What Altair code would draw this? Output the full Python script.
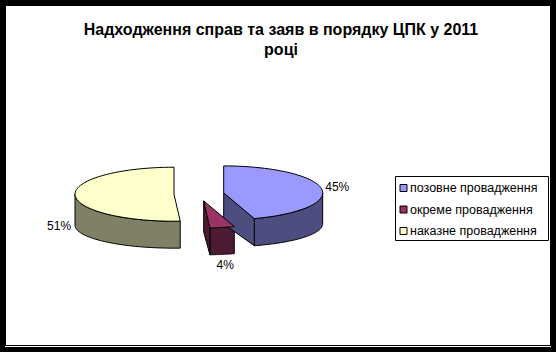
import altair as alt
import pandas as pd

# ---- data -------------------------------------------------------------
categories = ["позовне провадження", "окреме провадження", "наказне провадження"]
values = [45, 4, 51]
title_lines = ["Надходження справ та заяв в порядку ЦПК у 2011", "році"]

# ---- style ------------------------------------------------------------
top_colors = ["#9999FF", "#993366", "#FFFFCC"]
side_colors = ["#4D4D80", "#4D1A33", "#808066"]
FONT = "Liberation Sans"

W, H = 556, 352
CX, CY = 199, 194      # pie centre
RX, RY = 99, 27        # top ellipse radii
EX, EY = 25, 7         # explode distance
D, K = 31, 0.85        # depth and bottom flattening
N = 60                 # arc resolution
L = 16                 # label distance

df = pd.DataFrame({"cat": categories, "value": values,
                   "idx": list(range(len(categories)))})

xs = alt.Scale(domain=[0, W], nice=False, zero=False)
ys = alt.Scale(domain=[0, H], nice=False, zero=False, reverse=True)


def base():
    return (
        alt.Chart(df)
        .transform_joinaggregate(total="sum(value)")
        .transform_window(cum="sum(value)", sort=[alt.SortField("idx", order="ascending")])
        .transform_calculate(a0="2*PI*(datum.cum - datum.value)/datum.total")
        .transform_calculate(a1="2*PI*datum.cum/datum.total")
        .transform_calculate(mid="(datum.a0 + datum.a1)/2")
        .transform_calculate(ox=f"{CX} + {EX}*sin(datum.mid)")
        .transform_calculate(oy=f"{CY} - {EY}*cos(datum.mid)")
    )


def poly(ch, fill_colors, detail):
    return ch.mark_line(stroke="black", strokeWidth=1).encode(
        x=alt.X("px:Q", scale=xs, axis=None),
        y=alt.Y("py:Q", scale=ys, axis=None),
        order=alt.Order("k:Q"),
        detail=detail,
        fill=alt.Fill("cat:N", scale=alt.Scale(domain=categories, range=fill_colors), legend=None),
    )


# outer rim (front-facing part only)
rim_ch = (
    base()
    .transform_calculate(lo="max(datum.a0, PI/2)")
    .transform_calculate(hi="min(datum.a1, 3*PI/2)")
    .transform_filter("datum.hi > datum.lo + 0.000001")
    .transform_calculate(k=f"sequence(0, {2 * N + 3})")
    .transform_flatten(["k"])
    .transform_calculate(j=f"datum.k <= {N} ? datum.k : (datum.k <= {2 * N + 1} ? {2 * N + 1} - datum.k : 0)")
    .transform_calculate(bot=f"datum.k > {N} && datum.k <= {2 * N + 1}")
    .transform_calculate(ang=f"datum.lo + datum.j/{N}*(datum.hi - datum.lo)")
    .transform_calculate(px=f"datum.ox + {RX}*sin(datum.ang)")
    .transform_calculate(py=f"datum.oy + (datum.bot ? {D} - {K * RY}*cos(datum.ang) : -{RY}*cos(datum.ang))")
)
rim = poly(rim_ch, side_colors, ["cat:N"])

# radial cut faces (front-facing only)
face_ch = (
    base()
    .transform_calculate(edge="[0, 1]")
    .transform_flatten(["edge"])
    .transform_calculate(ea="datum.edge == 0 ? datum.a0 : datum.a1")
    .transform_filter("(datum.edge == 0 && sin(datum.ea) < -0.001) || (datum.edge == 1 && sin(datum.ea) > 0.001)")
    .transform_calculate(k="sequence(0, 5)")
    .transform_flatten(["k"])
    .transform_calculate(onrim="datum.k == 1 || datum.k == 2")
    .transform_calculate(bot="datum.k == 2 || datum.k == 3")
    .transform_calculate(cs="datum.onrim ? cos(datum.ea) : 0")
    .transform_calculate(px=f"datum.ox + (datum.onrim ? {RX}*sin(datum.ea) : 0)")
    .transform_calculate(py=f"datum.oy + (datum.bot ? {D} - {K * RY}*datum.cs : -{RY}*datum.cs)")
)
faces = poly(face_ch, side_colors, ["cat:N", "edge:N"])

# top faces
top_ch = (
    base()
    .transform_calculate(k=f"sequence(0, {N + 3})")
    .transform_flatten(["k"])
    .transform_calculate(t=f"clamp(datum.k - 1, 0, {N})/{N}")
    .transform_calculate(isc=f"datum.k == 0 || datum.k == {N + 2}")
    .transform_calculate(ang="datum.a0 + datum.t*(datum.a1 - datum.a0)")
    .transform_calculate(px=f"datum.ox + (datum.isc ? 0 : {RX}*sin(datum.ang))")
    .transform_calculate(py=f"datum.oy - (datum.isc ? 0 : {RY}*cos(datum.ang))")
)
top = poly(top_ch, top_colors, ["cat:N"])

# percentage labels
labels = (
    base()
    .transform_calculate(f="clamp(1 - sin(datum.mid), 0, 1)")
    .transform_calculate(lx=f"datum.ox + {RX}*sin(datum.mid) + {L}*sin(datum.mid)")
    .transform_calculate(ly=f"datum.oy - {RY}*cos(datum.mid) + datum.f*({D} + {RY - K * RY}*cos(datum.mid)) - {L}*cos(datum.mid)")
    .transform_calculate(pct="format(datum.value/datum.total, '.0%')")
    .mark_text(font=FONT, fontSize=12, color="black", align="center", baseline="middle")
    .encode(
        x=alt.X("lx:Q", scale=xs, axis=None),
        y=alt.Y("ly:Q", scale=ys, axis=None),
        text="pct:N",
    )
)

one = alt.Data(values=[{"a": 1}])

frame = alt.Chart(one).mark_rect(fill="white").encode(
    x=alt.value(6), x2=alt.value(550), y=alt.value(6), y2=alt.value(345)
)
frame_line = alt.Chart(one).mark_rect(fill="white").encode(
    x=alt.value(5), x2=alt.value(551), y=alt.value(346), y2=alt.value(347)
)

title = alt.Chart(one).mark_text(
    text=title_lines, font=FONT, fontSize=16, fontWeight="bold", color="black",
    align="center", baseline="alphabetic", lineHeight=20,
).encode(x=alt.value(281), y=alt.value(35))

legend_box = alt.Chart(one).mark_rect(fill="white", stroke="black", strokeWidth=1).encode(
    x=alt.value(395.5), x2=alt.value(548.5), y=alt.value(176.5), y2=alt.value(240.5)
)

leg_base = alt.Chart(df).transform_calculate(ly="188 + 21.5*datum.idx")
legend_sq = leg_base.mark_square(size=49, stroke="black", strokeWidth=1, opacity=1).encode(
    x=alt.value(403.5),
    y=alt.Y("ly:Q", scale=ys, axis=None),
    fill=alt.Fill("cat:N", scale=alt.Scale(domain=categories, range=top_colors), legend=None),
)
legend_txt = leg_base.mark_text(font=FONT, fontSize=12.5, color="black",
                                align="left", baseline="middle").encode(
    x=alt.value(410),
    y=alt.Y("ly:Q", scale=ys, axis=None),
    text="cat:N",
)

chart = (
    alt.layer(frame, frame_line, rim, faces, top, labels, title, legend_box, legend_sq, legend_txt)
    .resolve_scale(fill="independent")
    .properties(width=W, height=H, padding=0, background="black",
                autosize=alt.AutoSizeParams(type="none"))
    .configure_view(stroke=None)
)

chart.save("out.html", embed_options={"renderer": "svg", "actions": False})
